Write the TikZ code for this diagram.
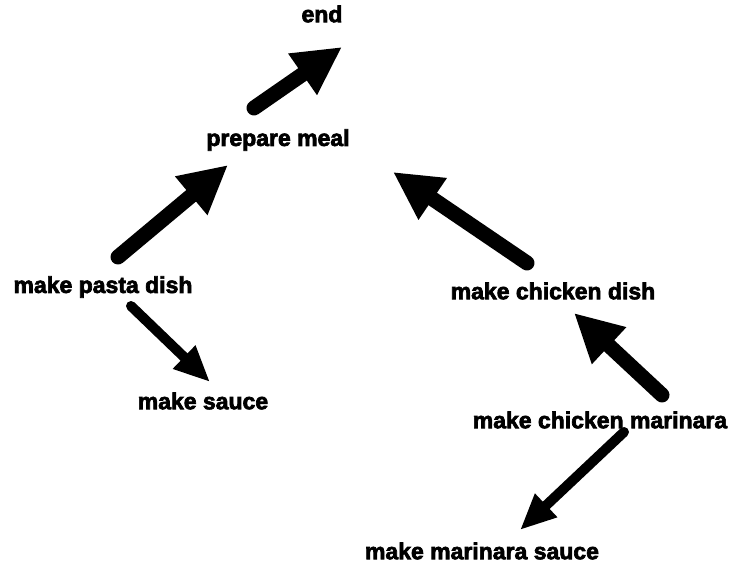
\documentclass[tikz,border=0pt]{standalone}
\usepackage{fontspec}
\setmainfont[FakeBold=3]{Liberation Sans}
\usetikzlibrary{arrows.meta,calc}
\tikzset{
  lbl/.style={inner sep=0pt, font=\bfseries\fontsize{23}{24}\selectfont},
  bigarrow/.style={line width=15pt, line cap=round, -{Triangle[length=48pt,width=47pt]}},
  smallarrow/.style={line width=10pt, line cap=round, -{Triangle[length=36pt,width=30pt]}}
}
\begin{document}
\begin{tikzpicture}[x=1pt,y=-1pt]
\useasboundingbox (0,0) rectangle (731,569);
\node[lbl] (end) at (322,14) {end};
\node[lbl] (prep) at (278,140) {prepare meal};
\node[lbl] (pasta) at (103,287) {make pasta dish};
\node[lbl] (sauce) at (203,401) {make sauce};
\node[lbl] (cdish) at (553,291) {make chicken dish};
\node[lbl] (cmar) at (600,420) {make chicken marinara};
\node[lbl] (msauce) at (482,551) {make marinara sauce};
\draw[bigarrow] ($(prep)+(-24,-32)$) -- ($(end)+(20,33)$);
\draw[bigarrow] ($(pasta)+(15,-30)$) -- ($(prep)+(-50,25)$);
\draw[smallarrow] ($(pasta)+(28,19)$) -- ($(sauce)+(7,-19)$);
\draw[bigarrow] ($(cdish)+(-26,-28)$) -- ($(prep)+(115,32)$);
\draw[bigarrow] ($(cmar)+(62,-25)$) -- ($(cdish)+(21,22)$);
\draw[smallarrow] ($(cmar)+(24,12)$) -- ($(msauce)+(38,-21)$);
\end{tikzpicture}
\end{document}
